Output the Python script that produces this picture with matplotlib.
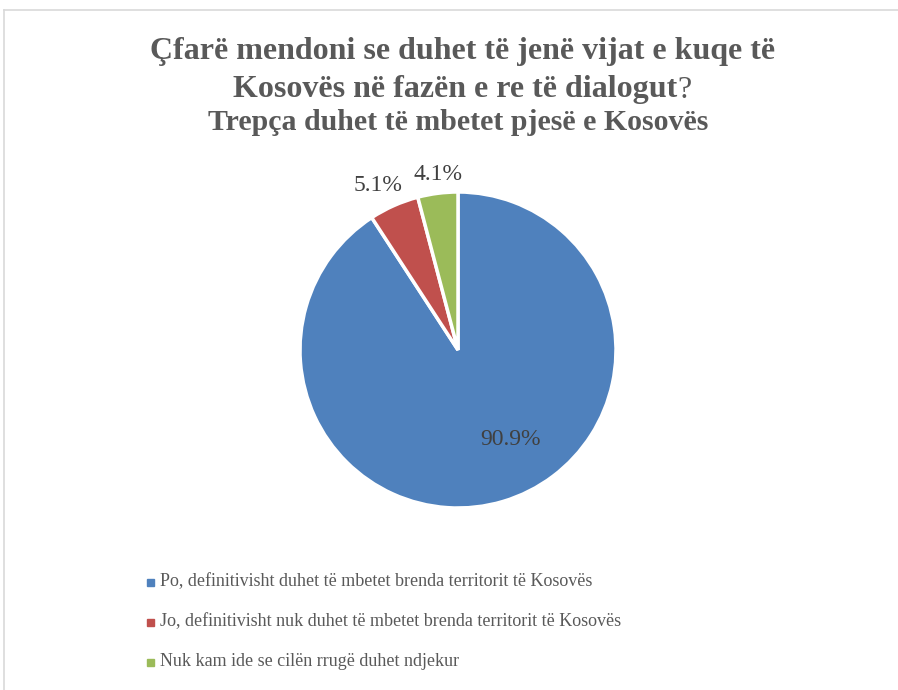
import numpy as np
import matplotlib.pyplot as plt

# data
labels = [
    "Po, definitivisht duhet të mbetet brenda territorit të Kosovës",
    "Jo, definitivisht nuk duhet të mbetet brenda territorit të Kosovës",
    "Nuk kam ide se cilën rrugë duhet ndjekur",
]
shares = [90.9, 5.1, 4.1]
colors = ["#4F81BD", "#C0504D", "#9BBB59"]

title_lines = [
    "Çfarë mendoni se duhet të jenë vijat e kuqe të",
    "Kosovës në fazën e re të dialogut",
    "Trepça duhet të mbetet pjesë e Kosovës",
]

W, H = 898, 690
fig = plt.figure(figsize=(W / 100, H / 100), dpi=100)
fig.patch.set_facecolor("white")

# chart frame (only top/left visible in the original crop)
fig.add_artist(plt.Line2D([4 / W, 1], [1 - 10 / H, 1 - 10 / H], color="#D9D9D9", lw=1.2))
fig.add_artist(plt.Line2D([4 / W, 4 / W], [0, 1 - 10 / H], color="#D9D9D9", lw=1.2))

serif = "Liberation Serif"
title_color = "#595959"

# pie: center (458, 350), radius 158 px
cx, cy, r = 458, 350, 158
ax = fig.add_axes([(cx - r) / W, 1 - (cy + r) / H, 2 * r / W, 2 * r / H])
wedges, _ = ax.pie(shares, colors=colors, startangle=90, counterclock=False,
                   wedgeprops=dict(edgecolor="white", linewidth=2.5))
ax.set_xlim(-1, 1)
ax.set_ylim(-1, 1)
ax.set_aspect("equal")
ax.axis("off")

fig.text(463 / W, 1 - 52 / H, title_lines[0], ha="center", va="center",
         fontsize=23, fontweight="bold", color=title_color, family=serif)
t2 = fig.text(455 / W, 1 - 90 / H, title_lines[1], ha="center", va="center",
              fontsize=23, fontweight="bold", color=title_color, family=serif)
fig.text(458 / W, 1 - 122 / H, title_lines[2], ha="center", va="center",
         fontsize=21.5, fontweight="bold", color=title_color, family=serif)
# the question mark is not bold in the original
ax.annotate("?", xy=(1, 0.5), xycoords=t2, va="center", ha="left",
            fontsize=23, color=title_color, family=serif, annotation_clip=False)

dist = [0.66, 1.16, 1.12]
nudge = [14, 2, -1]
for w, d, n, s in zip(wedges, dist, nudge, shares):
    mid = np.deg2rad((w.theta1 + w.theta2) / 2 + n)
    ax.text(d * np.cos(mid), d * np.sin(mid), f"{s:.1f}%", ha="center", va="center",
            fontsize=17, color="#404040", family=serif, clip_on=False)

# legend
leg_y = [582, 622, 662]
for lab, c, y in zip(labels, colors, leg_y):
    fig.patches.append(plt.Rectangle((147 / W, 1 - (y + 4) / H), 7 / W, 7 / H,
                                     transform=fig.transFigure, color=c))
    fig.text(160 / W, 1 - y / H, lab, ha="left", va="center",
             fontsize=13, color="#595959", family=serif)

fig.savefig("out.png", dpi=100, facecolor="white")
